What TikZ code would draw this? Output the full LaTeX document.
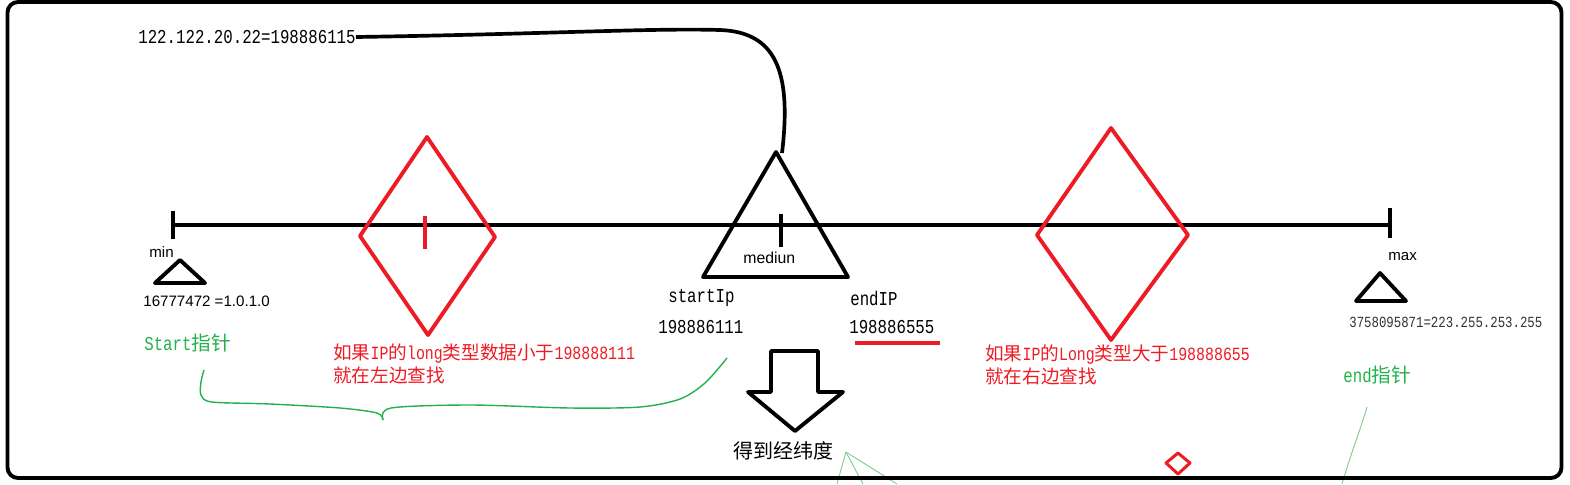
\documentclass[tikz,border=0pt]{standalone}
\usepackage{fontspec}
\setmainfont{Liberation Mono}[FakeStretch=0.8]
\setsansfont{Liberation Sans}
\newfontfamily\cjk{Noto Sans CJK SC}
\definecolor{paintred}{RGB}{237,28,36}
\definecolor{paintgreen}{RGB}{34,177,76}
\definecolor{fangreen}{RGB}{120,205,140}

\tikzset{
	thick line/.style={line width=2.2pt, line join=round},
	red line/.style={draw=paintred, line width=2.2pt, line join=round},
	green line/.style={draw=paintgreen, line width=0.8pt, line join=round},
	fan line/.style={draw=fangreen, line width=0.5pt},
	lbl/.style={inner sep=0pt, anchor=west, font=\fontsize{11.2}{13}\selectfont},
	sans lbl/.style={inner sep=0pt, anchor=west, font=\sffamily\fontsize{8.6}{10}\selectfont},
	note/.style={inner sep=0pt, anchor=west, align=left, text=paintred, font=\fontsize{10.6}{13.1}\selectfont},
}

\begin{document}
\begin{tikzpicture}[x=0.02cm, y=-0.02cm]
	\useasboundingbox (0, 0) rectangle (1570, 484);
	% Axis, markers and labels:
	\coordinate (Pmin) at (173, 225);
	\coordinate (Pmax) at (1390, 225);
	\draw[thick line] (Pmin) -- (Pmax);
	\draw[thick line] (173, 211) -- (173, 239);
	\draw[thick line] (1390, 208) -- (1390, 238);
	\draw[thick line] (781, 214) -- (781, 247);
	\draw[red line] (425, 216) -- (425, 249);
	\draw[red line] (360, 236) -- (427, 137) -- (495, 237) -- (428, 335) -- cycle;
	\draw[red line] (1037, 235) -- (1111, 128) -- (1188, 235) -- (1111, 340) -- cycle;
	\draw[red line, line width=1.7pt] (1166, 463) -- (1178, 453) -- (1190, 463) -- (1178, 474) -- cycle;
	\draw[thick line] (776, 152) -- (848, 277) -- (703, 277) -- cycle;
	\draw[thick line] (180, 260) -- (205, 283) -- (155, 283) -- cycle;
	\draw[thick line] (1380, 273) -- (1406, 301) -- (1356, 301) -- cycle;
	\coordinate (Mtop) at (782, 153);
	\draw node[lbl] (Ipval) at (138, 37) {122.122.20.22=198886115};
	\draw[line width=2.1pt] (Ipval.east) .. controls (550, 34) and (650, 28) .. (720, 30)
		.. controls (775, 32) and (792, 70) .. (Mtop);
	\draw node[sans lbl] (Lmin) at (149, 252) {min};
	\draw node[sans lbl] (Nmin) at (143, 301) {16777472 =1.0.1.0};
	\draw node[lbl, text=paintgreen] (Sptr) at (144, 343) {Start{\cjk 指针}};
	\draw node[sans lbl, font=\sffamily\fontsize{9}{10}\selectfont] (Lmed) at (743, 258) {mediun};
	\draw node[lbl] (Sip) at (668, 298) {startIp};
	\draw node[lbl] (Eip) at (850, 298) {endIP};
	\draw node[lbl] (Snum) at (658, 327) {198886111};
	\draw node[lbl] (Enum) at (849, 327) {198886555};
	\draw[red line] (855, 343) -- (940, 343);
	\draw node[note] (Lnote) at (333, 363.5) {{\cjk 如果}IP{\cjk 的}long{\cjk 类型数据小于}198888111\\{\cjk 就在左边查找}};
	\draw node[note] (Rnote) at (985, 364.5) {{\cjk 如果}IP{\cjk 的}Long{\cjk 类型大于}198888655\\{\cjk 就在右边查找}};
	\draw node[sans lbl] (Lmax) at (1388, 257) {max};
	\draw node[lbl, text=black!80, font=\fontsize{8.8}{10}\selectfont] (Nmax) at (1349, 322) {3758095871=223.255.253.255};
	\draw node[lbl, text=paintgreen] (Eptr) at (1343, 375) {end{\cjk 指针}};
	\draw[thick line] (771, 351) -- (818, 351) -- (818, 392) -- (843, 392) -- (795, 431)
		-- (748, 392) -- (771, 392) -- cycle;
	\draw node[inner sep=0pt, anchor=west, font=\cjk\fontsize{11.4}{13}\selectfont] (Res) at (733, 451) {得到经纬度};
	% Hand drawn strokes:
	\draw[green line] plot[smooth, tension=0.5] coordinates {(204, 370) (201, 382) (201, 395) (212, 402) (270, 404) (340, 408) (377, 413) (383, 420)};
	\draw[green line] plot[smooth, tension=0.5] coordinates {(383, 420) (391, 408) (470, 405) (570, 408) (640, 407) (680, 399) (705, 383) (727, 358)};
	\coordinate (Fan) at (846, 452);
	\draw[fan line] (Fan) -- (837, 484);
	\draw[fan line] (Fan) -- (863, 484);
	\draw[fan line] (Fan) -- (897, 484);
	\draw[fan line] (1367, 407) .. controls (1362, 425) and (1352, 450) .. (1342, 484);
	\draw[line width=2.2pt, rounded corners=6pt] (7.5, 2) rectangle (1561.5, 478);
\end{tikzpicture}
\end{document}
